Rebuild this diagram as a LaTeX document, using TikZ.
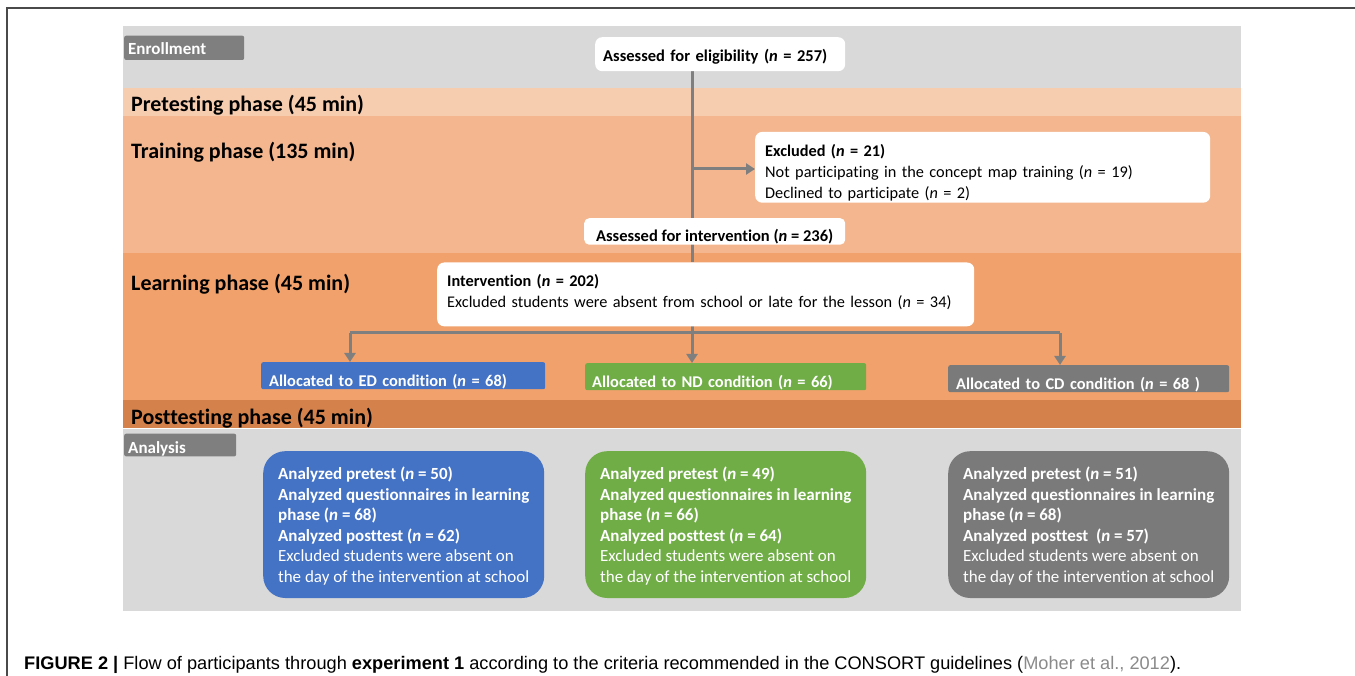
\documentclass[tikz,border=0pt]{standalone}
\usepackage{fontspec}
\setmainfont{Carlito}[RawFeature={-liga;-clig}]
\newfontfamily\capfont{Liberation Sans}
\usetikzlibrary{arrows.meta}
\definecolor{bandGray}{HTML}{D9D9D9}
\definecolor{preC}{HTML}{F7CDB0}
\definecolor{trainC}{HTML}{F3B68F}
\definecolor{learnC}{HTML}{F1A16B}
\definecolor{postC}{HTML}{D4814B}
\definecolor{edBlue}{HTML}{4472C4}
\definecolor{ndGreen}{HTML}{70AD47}
\definecolor{cdGray}{HTML}{7A7A7A}
\definecolor{tagGray}{HTML}{7F7F7F}
\definecolor{lineGray}{HTML}{7F7F7F}
\definecolor{frameC}{HTML}{4A4A4A}
\definecolor{citeC}{HTML}{8A8A8A}
\newcommand{\myTop}[1]{\rule{0pt}{#1pt}}
\newcommand{\myBot}[1]{\rule[-#1pt]{0pt}{#1pt}}
\pgfdeclarelayer{bands}
\pgfdeclarelayer{lines}
\pgfsetlayers{bands,lines,main}
\begin{document}
\begin{tikzpicture}[x=1pt,y=-1pt,
  phase/.style={anchor=base west, inner sep=0pt, font=\fontsize{22}{25}\selectfont\bfseries},
  tagbox/.style={fill=tagGray, text=white, anchor=north west, inner sep=0pt, inner xsep=4pt,
     align=left, rounded corners=2pt, font=\fontsize{17}{19}\selectfont\bfseries},
  wbox/.style={fill=white, rounded corners=7pt, anchor=north west, inner sep=0pt, align=left,
     font=\fontsize{16.3}{20.7}\selectfont},
  alloc/.style={text=white, anchor=north west, inner sep=0pt, inner xsep=8pt, align=left,
     rounded corners=2pt, text height=24.7pt, text depth=2.3pt, font=\fontsize{16.4}{18}\selectfont\bfseries},
  abox/.style={text=white, anchor=north west, inner sep=0pt, align=left, rounded corners=22pt,
     minimum width=281pt, font=\fontsize{17}{20.5}\selectfont},
  conn/.style={draw=lineGray, line width=3pt},
  arr/.style={conn, -{Triangle[length=9pt,width=11pt]}}
]
\useasboundingbox (0,0) rectangle (1355,676);
% frame
\draw[frameC, line width=1.2pt] (7,676) -- (7,8) -- (1355,8);
% bands
\begin{pgfonlayer}{bands}
\fill[bandGray] (123,26) rectangle (1241,88);
\fill[preC] (123,88) rectangle (1241,116);
\fill[trainC] (123,116) rectangle (1241,253);
\fill[learnC] (123,253) rectangle (1241,400);
\fill[postC] (123,400) rectangle (1241,428);
\fill[bandGray] (123,428.8) rectangle (1241,611);
\end{pgfonlayer}
% tags
\node[tagbox, minimum width=120pt, text height=19.3pt, text depth=5pt, text width=112pt] (enr) at (124,35.5) {Enrollment};
\node[tagbox, minimum width=112pt, text height=19.4pt, text depth=3.3pt, text width=104pt] (ana) at (124,433.5) {Analysis};
% phase labels
\node[phase] (pre) at (131,112) {Pretesting phase (45 min)};
\node[phase] (tra) at (131,158.3) {Training phase (135 min)};
\node[phase] (lea) at (131,290.5) {Learning phase (45 min)};
\node[phase] (pos) at (131,424) {Posttesting phase (45 min)};
% white boxes
\node[wbox, inner xsep=8pt, text width=234pt, text height=24pt, text depth=10pt, font=\fontsize{16.5}{18}\selectfont\bfseries]
  (elig) at (595,37) {Assessed for eligibility (\textit{n} = 257)};
\node[wbox, inner xsep=10pt, text width=435pt]
  (excl) at (755,131.7) {\myTop{25}\textbf{Excluded (\textit{n} = 21)}\\
  Not participating in the concept map training (\textit{n} = 19)\\
  Declined to participate (\textit{n} = 2)\myBot{4.4}};
\node[wbox, rounded corners=5pt, inner xsep=0pt, minimum width=261pt, text height=23pt, text depth=3.5pt, font=\fontsize{16.5}{18}\selectfont\bfseries]
  (asint) at (584,218) {Assessed for intervention (\textit{n} = 236)};
\node[wbox, inner xsep=10pt, text width=517pt]
  (interv) at (437,262.3) {\myTop{24.4}\textbf{Intervention (\textit{n} = 202)}\\
  Excluded students were absent from school or late for the lesson (\textit{n} = 34)\myBot{18.7}};
% allocation boxes
\node[alloc, fill=edBlue, text width=268pt] (ed) at (261,362) {Allocated to ED condition (\textit{n} = 68)};
\node[alloc, fill=ndGreen, inner xsep=7pt, text width=267pt] (nd) at (585,363) {Allocated to ND condition (\textit{n} = 66)};
\node[alloc, fill=cdGray, text width=265pt] (cd) at (948,365) {Allocated to CD condition (\textit{n} = 68 )};
% analysis boxes
\node[abox, fill=edBlue] (aed) at (263,451) {\myTop{28.3}\textbf{Analyzed pretest (\textit{n} = 50)}\\
  \textbf{Analyzed questionnaires in learning}\\
  \textbf{phase (\textit{n} = 68)}\\
  \textbf{Analyzed posttest (\textit{n} = 62)}\\
  Excluded students were absent on\\
  the day of the intervention at school\myBot{16}};
\node[abox, fill=ndGreen] (and) at (585,451) {\myTop{28.3}\textbf{Analyzed pretest (\textit{n} = 49)}\\
  \textbf{Analyzed questionnaires in learning}\\
  \textbf{phase (\textit{n} = 66)}\\
  \textbf{Analyzed posttest (\textit{n} = 64)}\\
  Excluded students were absent on\\
  the day of the intervention at school\myBot{16}};
\node[abox, fill=cdGray] (acd) at (948,451) {\myTop{28.3}\textbf{Analyzed pretest (\textit{n} = 51)}\\
  \textbf{Analyzed questionnaires in learning}\\
  \textbf{phase (\textit{n} = 68)}\\
  \textbf{Analyzed posttest\ \ (\textit{n} = 57)}\\
  Excluded students were absent on\\
  the day of the intervention at school\myBot{16}};
% connectors
\coordinate (sx) at (692,0);
\coordinate (h1) at (350,333);
\coordinate (h2) at (1060,333);
\coordinate (br) at (692,169);
\begin{pgfonlayer}{lines}
\draw[conn] (elig.south -| sx) -- (interv.north -| sx);
\draw[arr] (br) -- (br -| excl.west);
\draw[arr] (interv.south -| sx) -- (sx |- nd.north);
\draw[conn] (h1) -- (h2);
\draw[arr] (h1) -- (h1 |- ed.north);
\draw[arr] (h2) -- (h2 |- cd.north);
\end{pgfonlayer}
% caption
\node[anchor=base west, inner sep=0pt, font=\capfont\fontsize{18.2}{20}\selectfont] (cap) at (24,669)
  {\textbf{FIGURE 2} \textbf{|} Flow of participants through \textbf{experiment 1} according to the criteria recommended in the CONSORT guidelines (\textcolor{citeC}{Moher et al., 2012}).};
\end{tikzpicture}
\end{document}
